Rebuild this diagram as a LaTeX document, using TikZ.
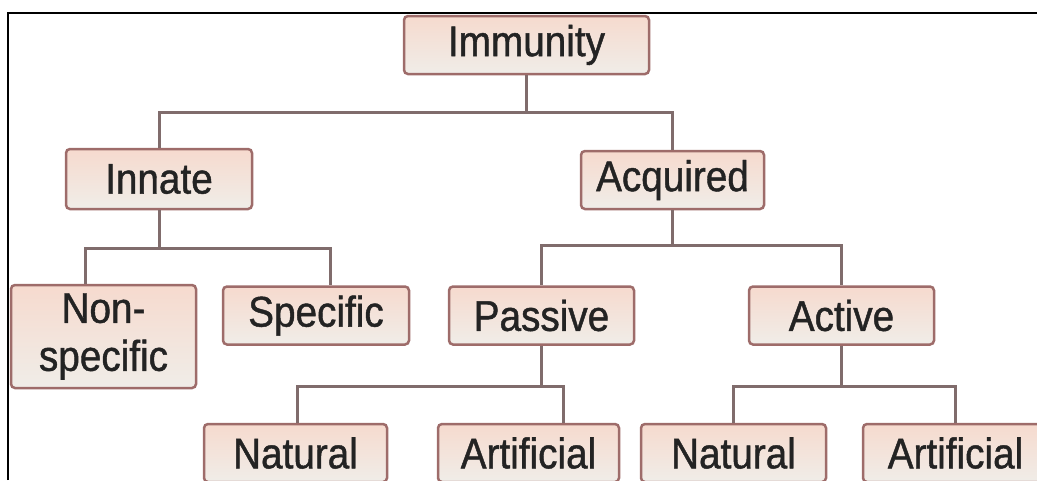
\documentclass[tikz,border=0pt]{standalone}
\usepackage{fontspec}
\newfontfamily\chartfont{Liberation Sans}[FakeStretch=0.9, FakeBold=1]
\definecolor{boxline}{RGB}{158,108,106}
\definecolor{boxtop}{RGB}{246,218,206}
\definecolor{boxbottom}{RGB}{240,237,232}
\definecolor{linkgray}{RGB}{128,108,108}
\definecolor{labelgray}{RGB}{35,35,35}
\tikzset{
  termbox/.style={rectangle, rounded corners=4pt, draw=boxline, line width=2.5pt,
                  top color=boxtop, bottom color=boxbottom, text=labelgray,
                  font=\chartfont\fontsize{43}{48}\selectfont, align=center,
                  inner sep=0pt, minimum width=185pt, minimum height=58pt},
  link/.style={draw=linkgray, line width=3pt},
}
\begin{document}
\begin{tikzpicture}[x=1pt, y=-1pt]
    \clip (0,0) rectangle (1037,480);
    \useasboundingbox (0,0) rectangle (1037,480);
    % frame
    \draw[line width=1.5pt] (8,480) -- (8,13) -- (1037,13);

    % Root and first level
    \node[termbox, minimum width=245pt] (immunity) at (526.5,45) {Immunity};
    \node[termbox, minimum width=186pt, minimum height=60pt] (innate) at (159,179) {Innate};
    \node[termbox, minimum width=183pt] (acquired) at (672.5,180) {Acquired};

    % Second level
    \node[termbox, minimum height=103pt] (nonspecific) at (103.5,336.5) {Non-\\specific};
    \node[termbox, minimum width=186pt] (specific) at (316,315.5) {Specific};
    \node[termbox] (passive) at (541.5,315.5) {Passive};
    \node[termbox] (active) at (841.5,315.5) {Active};

    % Third level (cut by the lower edge)
    \node[termbox, minimum width=183pt] (natural_p) at (295.5,453) {Natural};
    \node[termbox, minimum width=181pt] (artificial_p) at (528.5,453) {Artificial};
    \node[termbox] (natural_a) at (733.5,453) {Natural};
    \node[termbox] (artificial_a) at (955.5,453) {Artificial};

    % Tree connectors
    \draw[link] (immunity.south) -- ++(0,37) -| (innate.north);
    \draw[link] (immunity.south) -- ++(0,37) -| (acquired.north);
    \draw[link] (innate.south) -- ++(0,38) -| ([xshift=-18.5pt]nonspecific.north);
    \draw[link] (innate.south) -- ++(0,38) -| ([xshift=14pt]specific.north);
    \draw[link] (acquired.south) -- ++(0,35) -| (passive.north);
    \draw[link] (acquired.south) -- ++(0,35) -| (active.north);
    \draw[link] (passive.south) -- ++(0,41) -| ([xshift=1.5pt]natural_p.north);
    \draw[link] (passive.south) -- ++(0,41) -| ([xshift=34.5pt]artificial_p.north);
    \draw[link] (active.south) -- ++(0,41) -| (natural_a.north);
    \draw[link] (active.south) -- ++(0,41) -| (artificial_a.north);
\end{tikzpicture}
\end{document}
